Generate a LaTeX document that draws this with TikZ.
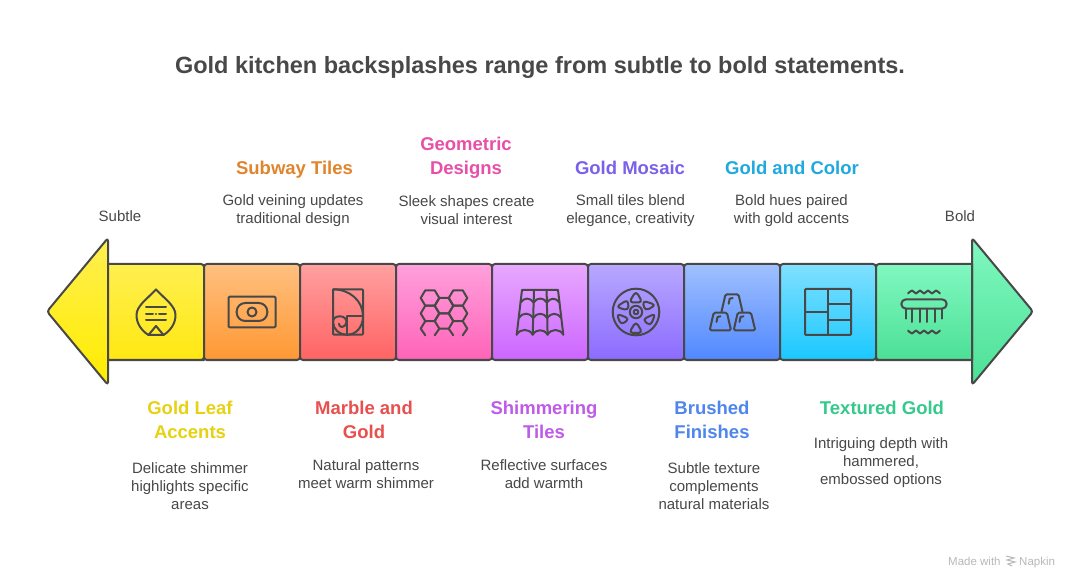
\documentclass[tikz,border=0pt]{standalone}
\usepackage{fontspec}
\setmainfont{Liberation Sans}
\definecolor{ink}{HTML}{484848}
\definecolor{cyel}{HTML}{E6D212}\definecolor{cora}{HTML}{E0852E}\definecolor{cred}{HTML}{E8504F}
\definecolor{cpnk}{HTML}{E84FA8}\definecolor{cpur}{HTML}{BE5CE8}\definecolor{cind}{HTML}{7B61EA}
\definecolor{cblu}{HTML}{4F86EE}\definecolor{ccya}{HTML}{1FA9DF}\definecolor{cgrn}{HTML}{36C98C}
\definecolor{ya}{HTML}{FFEF50}\definecolor{yb}{HTML}{FFE812}
\definecolor{oa}{HTML}{FFC080}\definecolor{ob}{HTML}{FF9833}
\definecolor{ra}{HTML}{FFA0A0}\definecolor{rb}{HTML}{FF6363}
\definecolor{pa}{HTML}{FFA0DC}\definecolor{pb}{HTML}{FF63B8}
\definecolor{ua}{HTML}{E8A8FF}\definecolor{ub}{HTML}{CC66FF}
\definecolor{ia}{HTML}{B8A8FF}\definecolor{ib}{HTML}{8C6BFF}
\definecolor{ba}{HTML}{A0C0FF}\definecolor{bb}{HTML}{5088FF}
\definecolor{ca}{HTML}{80E0FF}\definecolor{cb}{HTML}{1AC8FF}
\definecolor{ga}{HTML}{80F8C0}\definecolor{gb}{HTML}{4CE096}
\tikzset{
 x=1pt,y=-1pt,
 edge/.style={draw=ink,line width=2pt,line join=round},
 tile/.style={edge,rounded corners=3pt,top color=#1a,bottom color=#1b},
 ico/.style={draw=ink,line width=2pt,line join=round,line cap=round},
 ttl/.style={font=\bfseries\fontsize{23.5}{28}\selectfont,text=ink,anchor=center,inner sep=0},
 hd/.style={font=\bfseries\fontsize{18.5}{24}\selectfont,align=center,anchor=center,inner sep=0,text=#1},
 desc/.style={font=\fontsize{15}{18}\selectfont,text=ink,align=center,anchor=center,inner sep=0},
 foot/.style={font=\fontsize{11.5}{14}\selectfont,text=black!28,anchor=base west,inner sep=0},
}
\newcommand{\hexa}[2]{\draw[ico] (#1-9.3,#2) -- (#1-4.7,#2-7.7) -- (#1+4.7,#2-7.7) -- (#1+9.3,#2) -- (#1+4.7,#2+7.7) -- (#1-4.7,#2+7.7) -- cycle;}
\newcommand{\arch}[3]{\draw[ico] (#1,#3) .. controls (#1+3.5,#3-#2*0.4+#1*0.4) and (#2-3.5,#3-#2*0.4+#1*0.4) .. (#2,#3);}
\begin{document}
\begin{tikzpicture}
\useasboundingbox (0,0) rectangle (1080,588);
\fill[white] (0,0) rectangle (1080,588);
\node[ttl] (title) at (540,67) {Gold kitchen backsplashes range from subtle to bold statements.};
\node[desc] (subtle) at (120,216) {Subtle};
\node[desc] (bold) at (960,216) {Bold};
% arrow heads
\path[edge,rounded corners=3pt,top color=ya,bottom color=yellow!85!orange] (108,238) -- (47,311.5) -- (108,385) -- cycle;
\path[edge,rounded corners=3pt,top color=ga,bottom color=gb] (972,238) -- (1033,311.5) -- (972,385) -- cycle;
% tiles
\path[edge,top color=ya,bottom color=yb] (108,264) -- (201,264) [rounded corners=3pt] -- (204,264) -- (204,360) -- (201,360) [sharp corners] -- (108,360) -- cycle;
\path[tile=o] (204,264) rectangle (300,360);
\path[tile=r] (300,264) rectangle (396,360);
\path[tile=p] (396,264) rectangle (492,360);
\path[tile=u] (492,264) rectangle (588,360);
\path[tile=i] (588,264) rectangle (684,360);
\path[tile=b] (684,264) rectangle (780,360);
\path[tile=c] (780,264) rectangle (876,360);
\path[edge,top color=ga,bottom color=gb] (972,264) -- (879,264) [rounded corners=3pt] -- (876,264) -- (876,360) -- (879,360) [sharp corners] -- (972,360) -- cycle;
% icon 1: leaf drop
\begin{scope}[shift={(156,312)}]
\draw[ico] (-7.5,23) .. controls (-14,19) and (-19.5,12) .. (-19.5,3) .. controls (-19.5,-6) and (-9,-13) .. (0,-22.5) .. controls (9,-13) and (19.5,-6) .. (19.5,3) .. controls (19.5,12) and (14,19) .. (7.5,23) -- cycle;
\draw[ico] (-7.5,23) -- (0,14) -- (7.5,23);
\draw[ico] (-10,-4.5) -- (10,-4.5);
\draw[ico] (-10,2) -- (-3,2) (-0.2,2) -- (0.2,2) (3,2) -- (10,2);
\draw[ico] (-10,8) -- (10,8);
\end{scope}
% icon 2: subway tile
\begin{scope}[shift={(252,312)}]
\draw[ico,rounded corners=1pt] (-23.5,-15.3) rectangle (23.5,15.3);
\draw[ico,rounded corners=8.5pt] (-15.3,-9) rectangle (15.3,9);
\draw[ico] (0,0) circle (4.5);
\end{scope}
% icon 3: golden spiral
\begin{scope}[shift={(348,312)}]
\draw[ico,rounded corners=1pt] (-15,-22.7) rectangle (15,22.7);
\draw[ico] (-15,-22.7) .. controls (2,-22.7) and (15,-11) .. (15,4.3);
\draw[ico] (-0.7,22.7) -- (-0.7,4.3) -- (15,4.3);
\draw[ico] (15,4.3) .. controls (15,15) and (8,22.7) .. (-0.7,22.7);
\draw[ico] (-0.7,22.7) .. controls (-9,22.7) and (-15,17) .. (-15,10) .. controls (-15,6) and (-12,4.3) .. (-8,4.3) .. controls (-4,4.3) and (-1.5,7) .. (-1.5,10) .. controls (-1.5,13) and (-4,15) .. (-6,15) .. controls (-8,15) and (-9,13.5) .. (-9,11.7);
\end{scope}
% icon 4: hexagons
\begin{scope}[shift={(444,312)}]
\hexa{-14}{-14}\hexa{14}{-14}\hexa{-14}{1.4}\hexa{14}{1.4}\hexa{0}{-6.3}\hexa{0}{9}
\draw[ico] (-18.7,23.3) -- (-23.3,16.6) -- (-18.7,9.1) (-4.7,16.7) -- (-9.3,23.3);
\draw[ico] (18.7,23.3) -- (23.3,16.6) -- (18.7,9.1) (4.7,16.7) -- (9.3,23.3);
\end{scope}
% icon 5: roof tiles
\begin{scope}[shift={(540,312)}]
\draw[ico] (-23.3,22.7) -- (-18,-22) -- (18,-22) -- (23.3,22.7);
\draw[ico] (-6,-22) -- (-7.3,22.7) (6.6,-22) -- (7.6,22.7);
\arch{-19.4}{-6.4}{-9.5}\arch{-6.4}{6.9}{-9.5}\arch{6.9}{19.4}{-9.5}
\arch{-21.2}{-6.8}{6}\arch{-6.8}{7.3}{6}\arch{7.3}{21.2}{6}
\arch{-23.3}{-7.3}{22.7}\arch{-7.3}{7.6}{22.7}\arch{7.6}{23.3}{22.7}
\end{scope}
% icon 6: reel
\begin{scope}[shift={(636,312)}]
\draw[ico] (0,0) circle (23.3);
\draw[ico] (0,0) circle (6.2);
\draw[ico] (0,0) circle (2.3);
\draw[ico,rounded corners=4pt] (0,-21) -- (6.5,-9.5) -- (-7,-9.5) -- cycle;
\draw[ico,rounded corners=4pt] (6.5,-11.5) -- (20,-7) -- (9,-1) -- cycle;
\draw[ico,rounded corners=4pt] (19.5,1.5) -- (14.5,14) -- (6.5,7.5) -- cycle;
\draw[ico,rounded corners=4pt] (0,9.5) -- (6.5,21) -- (-7,21) -- cycle;
\draw[ico,rounded corners=4pt] (-19.5,1.5) -- (-6.5,6.8) -- (-15,13) -- cycle;
\draw[ico,rounded corners=4pt] (-20,-5) -- (-8,-12.5) -- (-7.5,-1.5) -- cycle;
\end{scope}
% icon 7: gold bars
\begin{scope}[shift={(732,312)}]
\draw[ico,rounded corners=1.5pt] (-10.5,-0.2) -- (-6.5,-17.7) -- (6.5,-17.7) -- (10.5,-0.2);
\draw[ico,rounded corners=1.5pt] (-22.3,18.3) -- (-18.3,0.7) -- (-5,0.7) -- (-1,18.3) -- cycle;
\draw[ico,rounded corners=1.5pt] (1.7,18.3) -- (5.7,0.7) -- (19,0.7) -- (23.3,18.3) -- cycle;
\draw[ico] (-3.3,-8.3) -- (-2.3,-13.3) -- (0.7,-14);
\draw[ico] (-15.5,10) -- (-14.5,5) -- (-11.5,4.3);
\draw[ico] (7.5,10) -- (8.5,5) -- (11.5,4.3);
\end{scope}
% icon 8: panels
\begin{scope}[shift={(828,312)}]
\draw[ico,rounded corners=1pt] (-23,-23) rectangle (23,23);
\draw[ico] (0,-23) -- (0,23) (-23,0) -- (0,0) (0,-7.7) -- (23,-7.7) (0,8) -- (23,8);
\end{scope}
% icon 9: brush
\begin{scope}[shift={(924,312)}]
\draw[ico,rounded corners=4.7pt] (-22.7,-12.7) rectangle (22.7,-3.3);
\draw[ico] (-18.3,-3.3) -- (-18.3,6.7) (-11.7,-3.3) -- (-11.7,10) (-4.3,-3.3) -- (-4.3,10) (3.3,-3.3) -- (3.3,10) (10.7,-3.3) -- (10.7,10) (17.7,-3.3) -- (17.7,6.7);
\draw[ico] plot[smooth,tension=0.5] coordinates {(-16,-18.5) (-12,-21.5) (-8,-18.5) (-4,-21.5) (0,-18.5) (4,-21.5) (8,-18.5) (12,-21.5) (16,-18.5)};
\draw[ico] plot[smooth,tension=0.5] coordinates {(-16,18.5) (-12,21.5) (-8,18.5) (-4,21.5) (0,18.5) (4,21.5) (8,18.5) (12,21.5) (16,18.5)};
\end{scope}
% labels above
\node[hd=cora] (h2) at (294.5,169.5) {Subway Tiles};
\node[desc] (d2) at (293,211) {Gold veining updates\\traditional design};
\node[hd=cpnk] (h4) at (466,158) {Geometric\\Designs};
\node[desc] (d4) at (466.5,210) {Sleek shapes create\\visual interest};
\node[hd=cind] (h6) at (630,168) {Gold Mosaic};
\node[desc] (d6) at (630.5,211) {Small tiles blend\\elegance, creativity};
\node[hd=ccya] (h8) at (792,168) {Gold and Color};
\node[desc] (d8) at (791.5,211) {Bold hues paired\\with gold accents};
% labels below
\node[hd=cyel] (h1) at (190,420) {Gold Leaf\\Accents};
\node[desc] (d1) at (190,486) {Delicate shimmer\\highlights specific\\areas};
\node[hd=cred] (h3) at (364,420) {Marble and\\Gold};
\node[desc] (d3) at (366,474) {Natural patterns\\meet warm shimmer};
\node[hd=cpur] (h5) at (544,420) {Shimmering\\Tiles};
\node[desc] (d5) at (544,474) {Reflective surfaces\\add warmth};
\node[hd=cblu] (h7) at (712,420) {Brushed\\Finishes};
\node[desc] (d7) at (714,486.5) {Subtle texture\\complements\\natural materials};
\node[hd=cgrn] (h9) at (882,408) {Textured Gold};
\node[desc] (d9) at (881,463) {Intriguing depth with\\hammered,\\embossed options};
% footer
\node[foot] (made) at (948,565) {Made with};
\node[foot] (nap) at (1019,565) {Napkin};
\draw[draw=black!28,line width=1pt] (1006,556) -- (1014,558) -- (1007,560) -- (1015,562) -- (1008,564) -- (1012,566);
\end{tikzpicture}
\end{document}
